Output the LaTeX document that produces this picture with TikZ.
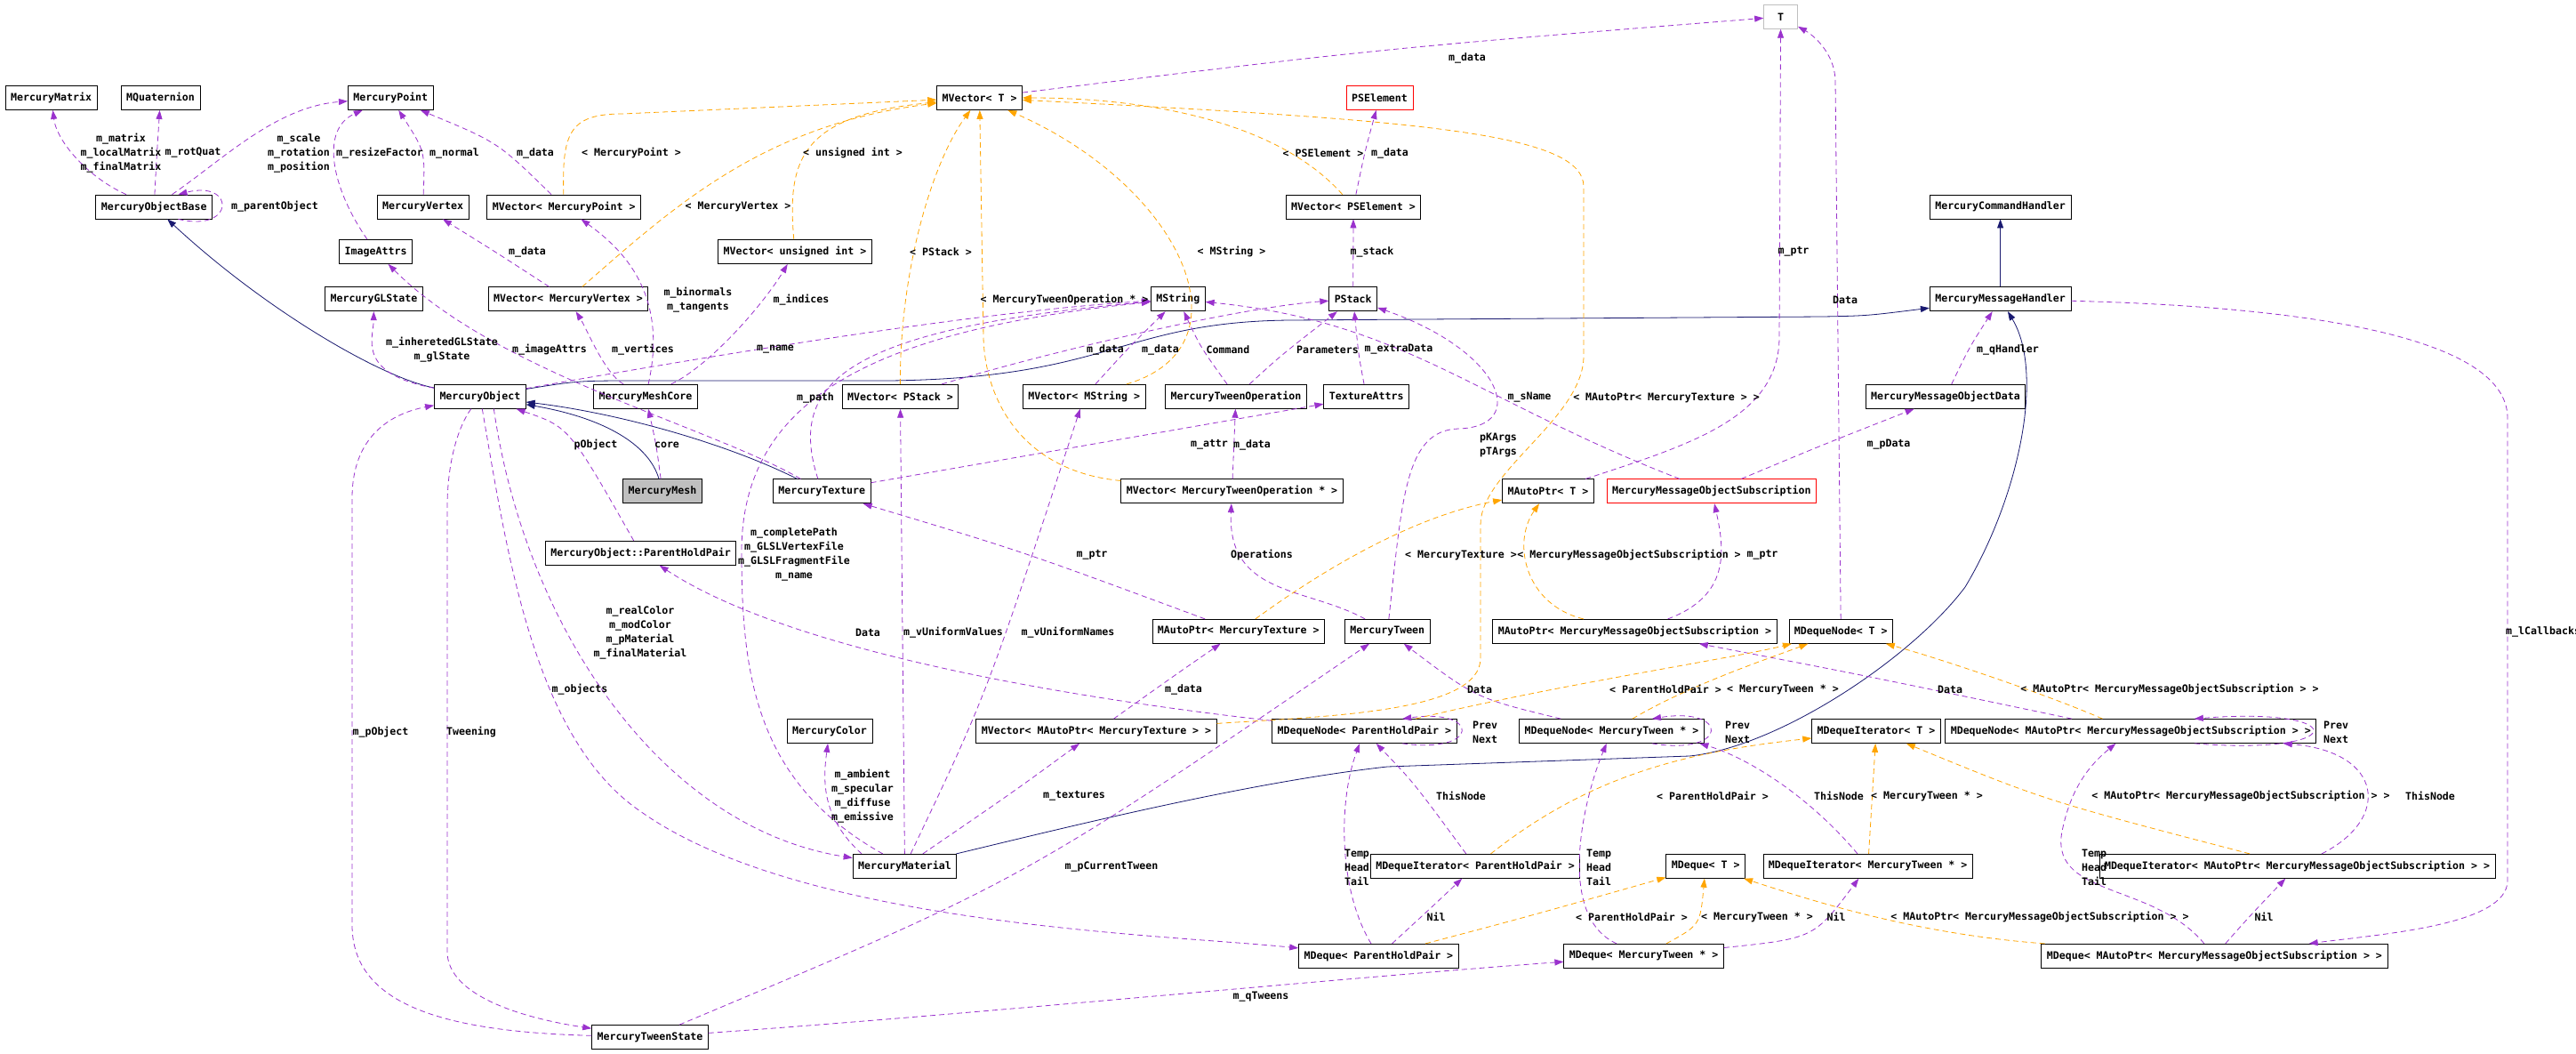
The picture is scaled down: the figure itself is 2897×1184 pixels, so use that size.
\documentclass[tikz,border=0pt]{standalone}
\usepackage{fontspec}
\usepackage{tikz}
\usetikzlibrary{arrows.meta}
\newfontfamily\dxmono{DejaVu Sans Mono}
\newcommand{\dgfont}{\dxmono\bfseries\fontsize{11.6pt}{16pt}\selectfont}
\definecolor{usecol}{HTML}{9A32CD}
\definecolor{tmplcol}{HTML}{FFA500}
\definecolor{inhcol}{HTML}{191970}
\definecolor{nodegray}{HTML}{BFBFBF}

\begin{document}
\begin{tikzpicture}[x=1pt,y=-1pt,
  cls/.style={rectangle,draw=black,line width=0.8pt,fill=white,minimum height=27pt,
    inner xsep=6pt,inner ysep=2pt,font=\dgfont},
  undoc/.style={cls,draw=red},
  tmplcls/.style={cls,draw=nodegray,minimum width=38pt},
  current/.style={cls,fill=nodegray},
  lbl/.style={inner sep=0pt,align=center,font=\dgfont},
  usedge/.style={usecol,line width=0.8pt,dash pattern=on 6pt off 4pt,-{Triangle[length=10pt,width=7pt]}},
  tmpledge/.style={usedge,tmplcol},
  inhedge/.style={inhcol,line width=0.8pt,-{Triangle[length=10pt,width=7pt]}},
]
\fill[white] (0,0) rectangle (2897,1184);
\useasboundingbox (0,0) rectangle (2897,1184);

% Classes, top rows
\node[cls] (mmatrix) at (57.6,110) {MercuryMatrix};
\node[cls] (mquat) at (180.5,110) {MQuaternion};
\node[cls] (mpoint) at (439.3,110) {MercuryPoint};
\node[cls] (mvect) at (1101.6,110) {MVector< T >};
\node[undoc] (pselem) at (1551.5,110) {PSElement};
\node[tmplcls] (tnode) at (2002.6,18.8) {T};
\node[cls] (mobase) at (173.2,232.5) {MercuryObjectBase};
\node[cls] (mvertex) at (475.6,232.5) {MercuryVertex};
\node[cls] (mvpoint) at (634.2,232.5) {MVector< MercuryPoint >};
\node[cls] (mvpselem) at (1522,232.5) {MVector< PSElement >};
\node[cls] (mcmdh) at (2249.6,232.5) {MercuryCommandHandler};
\node[cls] (imgattrs) at (422.6,283) {ImageAttrs};
\node[cls] (mvuint) at (894,283) {MVector< unsigned int >};
\node[cls] (glstate) at (420.5,336.3) {MercuryGLState};
\node[cls] (mvvertex) at (639,336.3) {MVector< MercuryVertex >};
\node[cls] (mstring) at (1324.8,336.3) {MString};
\node[cls] (pstack) at (1521.7,336.3) {PStack};
\node[cls] (mmsgh) at (2249.6,336.3) {MercuryMessageHandler};

% Classes, middle rows
\node[cls] (mobject) at (539.9,445.8) {MercuryObject};
\node[cls] (meshcore) at (726,445.8) {MercuryMeshCore};
\node[cls] (mvpstack) at (1012.4,445.8) {MVector< PStack >};
\node[cls] (mvmstring) at (1219.3,445.8) {MVector< MString >};
\node[cls] (tweenop) at (1390,445.8) {MercuryTweenOperation};
\node[cls] (texattrs) at (1536.7,445.8) {TextureAttrs};
\node[cls] (msgobjdata) at (2188,445.8) {MercuryMessageObjectData};
\node[current] (mesh) at (745,552.3) {MercuryMesh};
\node[cls] (mtexture) at (924.3,552.3) {MercuryTexture};
\node[cls] (mvtweenop) at (1385.5,552.3) {MVector< MercuryTweenOperation * >};
\node[cls] (autoptrt) at (1740.9,552.3) {MAutoPtr< T >};
\node[undoc] (msgobjsub) at (1924.9,552.3) {MercuryMessageObjectSubscription};
\node[cls] (parenthp) at (720.6,621.8) {MercuryObject::ParentHoldPair};
\node[cls] (aptex) at (1392.7,709.8) {MAutoPtr< MercuryTexture >};
\node[cls] (tween) at (1560.3,709.8) {MercuryTween};
\node[cls] (apsub) at (1838.4,709.8) {MAutoPtr< MercuryMessageObjectSubscription >};
\node[cls] (dnodet) at (2070.3,709.8) {MDequeNode< T >};

% Classes, bottom rows
\node[cls] (mcolor) at (933,822) {MercuryColor};
\node[cls] (mvaptex) at (1233,822) {MVector< MAutoPtr< MercuryTexture > >};
\node[cls] (dnphp) at (1534.4,822) {MDequeNode< ParentHoldPair >};
\node[cls] (dntween) at (1812.5,822) {MDequeNode< MercuryTween * >};
\node[cls] (ditert) at (2110,822) {MDequeIterator< T >};
\node[cls] (dnsub) at (2396.3,822) {MDequeNode< MAutoPtr< MercuryMessageObjectSubscription > >};
\node[cls] (mmaterial) at (1017.5,973.8) {MercuryMaterial};
\node[cls] (diphp) at (1659,973.8) {MDequeIterator< ParentHoldPair >};
\node[cls] (dequet) at (1918.2,973.8) {MDeque< T >};
\node[cls] (ditween) at (2100.7,973.8) {MDequeIterator< MercuryTween * >};
\node[cls] (disub) at (2583.5,973.8) {MDequeIterator< MAutoPtr< MercuryMessageObjectSubscription > >};
\node[cls] (dqphp) at (1550.4,1074.8) {MDeque< ParentHoldPair >};
\node[cls] (dqtween) at (1848.6,1074.8) {MDeque< MercuryTween * >};
\node[cls] (dqsub) at (2490.4,1074.8) {MDeque< MAutoPtr< MercuryMessageObjectSubscription > >};
\node[cls] (tweenstate) at (731,1166) {MercuryTweenState};

% Inheritance
\draw[inhedge] (mobject) .. controls (430,425) and (300,350) .. (mobase);
\draw[inhedge] (mesh) .. controls (730,500) and (680,470) .. (mobject);
\draw[inhedge] (mtexture) .. controls (820,500) and (700,465) .. (mobject);
\draw[inhedge] (mobject) .. controls (650,428) .. (720,428) -- (1000,428) .. controls (1250,425) and (1260,362) .. (1450,360) -- (2050,356) .. controls (2100,355) .. (mmsgh);
\draw[inhedge] (mmaterial) .. controls (1200,930) and (1400,880) .. (1560,862) -- (1900,850) .. controls (2000,840) and (2150,740) .. (2210,660) .. controls (2270,560) and (2300,420) .. (mmsgh);
\draw[inhedge] (mmsgh) -- (mcmdh);

% Usage, upper left
\draw[usedge] (mobase) .. controls (100,200) and (64,160) .. (mmatrix);
\draw[usedge] (mobase) .. controls (176,180) .. (mquat);
\draw[usedge] (mobase) .. controls (250,180) and (310,120) .. (mpoint);
\draw[usedge] (mobase.-27) .. controls (265,262) and (265,202) .. (mobase.27);
\draw[usedge] (imgattrs) .. controls (372,210) and (360,145) .. (mpoint);
\draw[usedge] (mvertex) .. controls (478,170) .. (mpoint);
\draw[usedge] (mvpoint) .. controls (560,160) .. (mpoint);
\draw[usedge] (mvvertex) .. controls (560,285) .. (mvertex);
\draw[usedge] (mobject) .. controls (400,420) and (420,380) .. (glstate);
\draw[usedge] (mtexture) .. controls (800,480) and (560,420) .. (imgattrs);
\draw[usedge] (meshcore) .. controls (680,420) and (660,370) .. (mvvertex);
\draw[usedge] (meshcore) .. controls (752,330) and (700,280) .. (mvpoint);
\draw[usedge] (meshcore) .. controls (800,410) and (860,340) .. (mvuint);
\draw[usedge] (mesh) .. controls (738,500) .. (meshcore);
\draw[usedge] (parenthp) .. controls (640,480) .. (mobject);
\draw[usedge] (tweenstate) .. controls (500,1160) and (396,1130) .. (396,1040) -- (396,560) .. controls (396,490) and (440,465) .. (mobject);
\draw[usedge] (mobject) .. controls (515,480) and (503,520) .. (503,570) -- (503,1070) .. controls (503,1120) and (590,1145) .. (tweenstate);
\draw[usedge] (mobject) .. controls (570,620) and (600,830) .. (720,912) .. controls (900,1040) and (1300,1050) .. (dqphp);
\draw[usedge] (mobject.-42) .. controls (590,700) and (740,930) .. (mmaterial);

% Usage, strings and stacks
\draw[usedge] (mobject) .. controls (800,400) and (1100,350) .. (mstring);
\draw[usedge] (mtexture) .. controls (885,430) and (950,370) .. (mstring);
\draw[usedge] (mmaterial) .. controls (850,880) and (834,760) .. (834,620) .. controls (834,440) and (1000,370) .. (mstring);
\draw[usedge] (mvpstack) .. controls (1200,390) and (1400,345) .. (pstack);
\draw[usedge] (mvmstring) .. controls (1270,390) .. (mstring);
\draw[usedge] (tweenop) .. controls (1350,390) .. (mstring);
\draw[usedge] (tweenop) .. controls (1440,400) .. (pstack);
\draw[usedge] (texattrs) .. controls (1528,400) .. (pstack);
\draw[usedge] (tween) .. controls (1577,560) and (1580,484) .. (1640,482) .. controls (1720,480) and (1690,395) .. (pstack);
\draw[usedge] (msgobjsub) .. controls (1660,450) and (1580,362) .. (mstring);
\draw[usedge] (mvtweenop) -- (tweenop);
\draw[usedge] (mtexture) -- (texattrs);
\draw[usedge] (mvpselem) .. controls (1535,170) .. (pselem);
\draw[usedge] (pstack) -- (mvpselem);
\draw[usedge] (mvect) .. controls (1550,55) .. (tnode);
\draw[usedge] (autoptrt) .. controls (1900,500) and (2000,470) .. (2001,380) -- (tnode);
\draw[usedge] (dnodet) -- (2064,90) .. controls (2063,60) and (2040,40) .. (tnode);

% Usage, messages
\draw[usedge] (msgobjsub) .. controls (2050,500) .. (msgobjdata);
\draw[usedge] (msgobjdata) .. controls (2215,390) .. (mmsgh);
\draw[usedge] (mmsgh) .. controls (2600,345) and (2820,380) .. (2820,470) -- (2820,990) .. controls (2820,1040) and (2680,1050) .. (dqsub);
\draw[usedge] (apsub) .. controls (1945,670) and (1940,620) .. (msgobjsub);
\draw[usedge] (dnsub) .. controls (2100,760) .. (apsub);

% Usage, material and tweens
\draw[usedge] (tweenstate) .. controls (1150,990) .. (tween);
\draw[usedge] (tweenstate) .. controls (1100,1140) and (1500,1100) .. (dqtween);
\draw[usedge] (mmaterial.164) .. controls (925,920) and (925,880) .. (mcolor);
\draw[usedge] (mmaterial) -- (mvpstack);
\draw[usedge] (mmaterial) .. controls (1110,780) .. (mvmstring);
\draw[usedge] (mmaterial) .. controls (1140,890) .. (mvaptex);
\draw[usedge] (mvaptex) .. controls (1320,760) .. (aptex);
\draw[usedge] (aptex) .. controls (1150,620) .. (mtexture);
\draw[usedge] (dnphp) .. controls (1250,790) and (900,740) .. (parenthp);
\draw[usedge] (tween) .. controls (1470,660) and (1380,670) .. (mvtweenop);
\draw[usedge] (dntween) .. controls (1660,785) .. (tween);

% Usage, deques
\draw[usedge] (dnphp.-18) .. controls (1665,848) and (1665,796) .. (dnphp.18);
\draw[usedge] (dntween.-17) .. controls (1945,850) and (1945,794) .. (dntween.17);
\draw[usedge] (dnsub.-11) .. controls (2645,850) and (2645,794) .. (dnsub.11);
\draw[usedge] (diphp) .. controls (1590,880) .. (dnphp);
\draw[usedge] (dqphp) .. controls (1505,1000) and (1505,900) .. (dnphp);
\draw[usedge] (dqphp) .. controls (1610,1020) .. (diphp);
\draw[usedge] (ditween) .. controls (2030,890) and (1960,850) .. (dntween.-8);
\draw[usedge] (disub) .. controls (2690,920) and (2680,845) .. (dnsub);
\draw[usedge] (dqtween) .. controls (1750,1030) and (1780,900) .. (dntween);
\draw[usedge] (dqtween) .. controls (2040,1055) .. (ditween);
\draw[usedge] (dqsub) .. controls (2420,990) and (2300,1010) .. (2320,930) .. controls (2330,885) and (2350,860) .. (dnsub);
\draw[usedge] (dqsub) .. controls (2530,1030) .. (disub);

% Template instances
\draw[tmpledge] (mvpoint) .. controls (632,150) and (640,128) .. (700,128) -- (mvect);
\draw[tmpledge] (mvvertex) .. controls (760,230) and (860,140) .. (mvect);
\draw[tmpledge] (mvuint) .. controls (885,180) and (900,130) .. (mvect);
\draw[tmpledge] (mvpstack) .. controls (1012,300) and (1050,180) .. (mvect);
\draw[tmpledge] (mvtweenop) .. controls (1150,530) and (1108,450) .. (1106,380) -- (mvect);
\draw[tmpledge] (mvmstring) .. controls (1410,390) and (1330,210) .. (mvect);
\draw[tmpledge] (mvpselem) .. controls (1440,140) and (1300,110) .. (mvect);
\draw[tmpledge] (mvaptex) .. controls (1500,805) and (1665,800) .. (1665,740) -- (1665,590) .. controls (1665,530) and (1781,470) .. (1781,400) -- (1781,210) .. controls (1781,150) and (1600,135) .. (mvect);
\draw[tmpledge] (aptex) .. controls (1530,610) and (1620,575) .. (autoptrt);
\draw[tmpledge] (apsub) .. controls (1715,680) and (1700,610) .. (autoptrt);
\draw[tmpledge] (dnphp) .. controls (1750,770) and (1950,740) .. (dnodet);
\draw[tmpledge] (dntween) .. controls (1900,770) and (1990,740) .. (dnodet);
\draw[tmpledge] (dnsub) .. controls (2300,780) and (2180,740) .. (dnodet);
\draw[tmpledge] (diphp) .. controls (1790,870) and (1900,845) .. (ditert);
\draw[tmpledge] (ditween) -- (ditert);
\draw[tmpledge] (disub) .. controls (2300,900) .. (ditert);
\draw[tmpledge] (dqphp) .. controls (1720,1030) .. (dequet);
\draw[tmpledge] (dqtween) .. controls (1912,1040) .. (dequet);
\draw[tmpledge] (dqsub) .. controls (2150,1050) and (2030,1010) .. (dequet);

% Edge labels
\node[lbl] (l-matrix) at (136,172) {m\_matrix\\m\_localMatrix\\m\_finalMatrix};
\node[lbl] (l-rotquat) at (217,172) {m\_rotQuat};
\node[lbl] (l-scale) at (336,172) {m\_scale\\m\_rotation\\m\_position};
\node[lbl] (l-parent) at (309,232) {m\_parentObject};
\node[lbl] (l-resize) at (427,172) {m\_resizeFactor};
\node[lbl] (l-normal) at (511,172) {m\_normal};
\node[lbl] (l-pdata) at (602,172) {m\_data};
\node[lbl] (l-tpoint) at (710,172) {< MercuryPoint >};
\node[lbl] (l-vdata) at (593,283) {m\_data};
\node[lbl] (l-tvertex) at (830,232) {< MercuryVertex >};
\node[lbl] (l-tuint) at (959,172) {< unsigned int >};
\node[lbl] (l-glstate) at (497,393) {m\_inheretedGLState\\m\_glState};
\node[lbl] (l-imgattrs) at (618,393) {m\_imageAttrs};
\node[lbl] (l-vertices) at (723,393) {m\_vertices};
\node[lbl] (l-binorm) at (785,337) {m\_binormals\\m\_tangents};
\node[lbl] (l-indices) at (901,337) {m\_indices};
\node[lbl] (l-tpstack) at (1058,283) {< PStack >};
\node[lbl] (l-ttweenop) at (1197,337) {< MercuryTweenOperation * >};
\node[lbl] (l-tmstring) at (1385,283) {< MString >};
\node[lbl] (l-tpselem) at (1488,172) {< PSElement >};
\node[lbl] (l-sedata) at (1563,172) {m\_data};
\node[lbl] (l-tdata) at (1650,65) {m\_data};
\node[lbl] (l-stack) at (1543,283) {m\_stack};
\node[lbl] (l-tptr) at (2017,283) {m\_ptr};
\node[lbl] (l-ndata) at (2075,337) {Data};
\node[lbl] (l-name) at (872,393) {m\_name};
\node[lbl] (l-psdata) at (1243,393) {m\_data};
\node[lbl] (l-msdata) at (1305,393) {m\_data};
\node[lbl] (l-command) at (1381,393) {Command};
\node[lbl] (l-params) at (1493,393) {Parameters};
\node[lbl] (l-extra) at (1573,393) {m\_extraData};
\node[lbl] (l-qhandler) at (2258,393) {m\_qHandler};
\node[lbl] (l-path) at (917,447) {m\_path};
\node[lbl] (l-sname) at (1720,447) {m\_sName};
\node[lbl] (l-taptex) at (1874,447) {< MAutoPtr< MercuryTexture > >};
\node[lbl] (l-attr) at (1360,500) {m\_attr};
\node[lbl] (l-opdata) at (1408,500) {m\_data};
\node[lbl] (l-core) at (750,500) {core};
\node[lbl] (l-pobject) at (670,500) {pObject};
\node[lbl] (l-args) at (1685,500) {pKArgs\\pTArgs};
\node[lbl] (l-pdatamsg) at (2124,500) {m\_pData};
\node[lbl] (l-paths) at (893,623) {m\_completePath\\m\_GLSLVertexFile\\m\_GLSLFragmentFile\\m\_name};
\node[lbl] (l-texptr) at (1228,624) {m\_ptr};
\node[lbl] (l-ops) at (1419,624) {Operations};
\node[lbl] (l-ttex) at (1643,624) {< MercuryTexture >};
\node[lbl] (l-tsub) at (1832,624) {< MercuryMessageObjectSubscription >};
\node[lbl] (l-subptr) at (1982,624) {m\_ptr};
\node[lbl] (l-colors) at (720,711) {m\_realColor\\m\_modColor\\m\_pMaterial\\m\_finalMaterial};
\node[lbl] (l-phpdata) at (976,711) {Data};
\node[lbl] (l-uvalues) at (1072,711) {m\_vUniformValues};
\node[lbl] (l-unames) at (1201,711) {m\_vUniformNames};
\node[lbl,anchor=west] (l-callbacks) at (2818,710) {m\_lCallbacks};
\node[lbl] (l-objects) at (652,775) {m\_objects};
\node[lbl] (l-texdata) at (1331,775) {m\_data};
\node[lbl] (l-twdata) at (1664,775) {Data};
\node[lbl] (l-tnphp) at (1873,775) {< ParentHoldPair >};
\node[lbl] (l-tntween) at (2005,775) {< MercuryTween * >};
\node[lbl] (l-subdata) at (2193,775) {Data};
\node[lbl] (l-tnsub) at (2440,775) {< MAutoPtr< MercuryMessageObjectSubscription > >};
\node[lbl] (l-mpobject) at (428,823) {m\_pObject};
\node[lbl] (l-tweening) at (530,823) {Tweening};
\node[lbl] (l-prevphp) at (1670,823) {Prev\\Next};
\node[lbl] (l-prevtween) at (1954,823) {Prev\\Next};
\node[lbl] (l-prevsub) at (2627,823) {Prev\\Next};
\node[lbl] (l-ambient) at (970,895) {m\_ambient\\m\_specular\\m\_diffuse\\m\_emissive};
\node[lbl] (l-textures) at (1208,895) {m\_textures};
\node[lbl] (l-thisphp) at (1643,895) {ThisNode};
\node[lbl] (l-tiphp) at (1926,895) {< ParentHoldPair >};
\node[lbl] (l-thistween) at (2068,895) {ThisNode};
\node[lbl] (l-titween) at (2167,895) {< MercuryTween * >};
\node[lbl] (l-tisub) at (2520,895) {< MAutoPtr< MercuryMessageObjectSubscription > >};
\node[lbl] (l-thissub) at (2733,895) {ThisNode};
\node[lbl] (l-current) at (1250,975) {m\_pCurrentTween};
\node[lbl] (l-thtphp) at (1526,975) {Temp\\Head\\Tail};
\node[lbl] (l-thttween) at (1798,975) {Temp\\Head\\Tail};
\node[lbl] (l-thtsub) at (2355,975) {Temp\\Head\\Tail};
\node[lbl] (l-nilphp) at (1615,1031) {Nil};
\node[lbl] (l-niltween) at (2065,1031) {Nil};
\node[lbl] (l-nilsub) at (2546,1031) {Nil};
\node[lbl] (l-tdphp) at (1835,1031) {< ParentHoldPair >};
\node[lbl] (l-tdtween) at (1976,1031) {< MercuryTween * >};
\node[lbl] (l-tdsub) at (2294,1031) {< MAutoPtr< MercuryMessageObjectSubscription > >};
\node[lbl] (l-qtweens) at (1418,1121) {m\_qTweens};

\end{tikzpicture}
\end{document}
